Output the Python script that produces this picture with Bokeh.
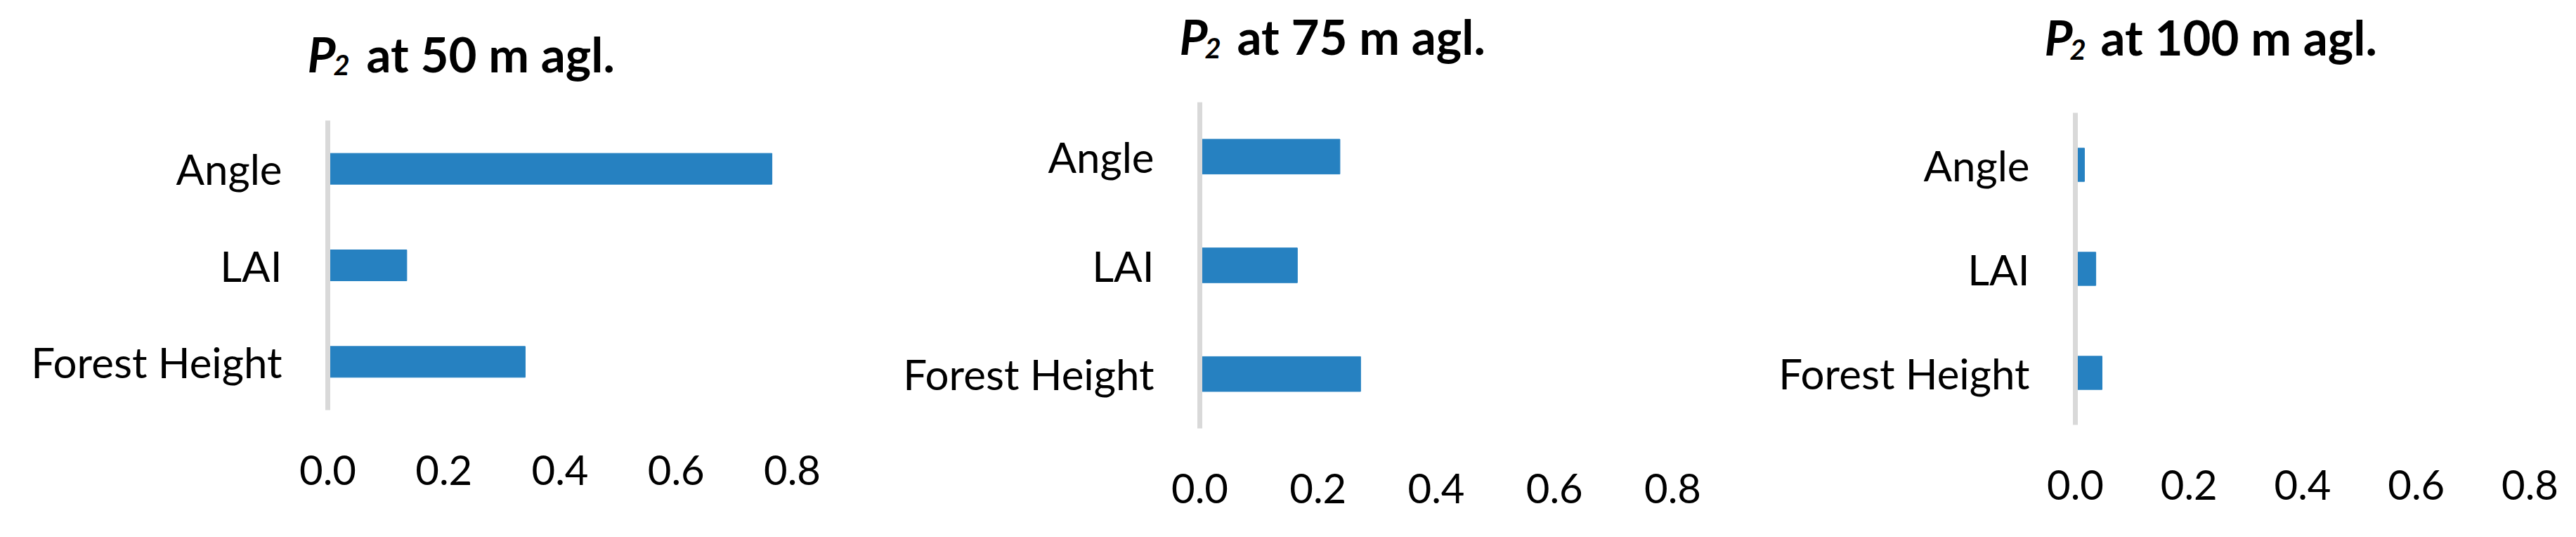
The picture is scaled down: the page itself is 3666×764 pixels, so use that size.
from bokeh.plotting import figure
from bokeh.layouts import row, column
from bokeh.models import Range1d, FactorRange, FixedTicker, NumeralTickFormatter
from bokeh.core.properties import value
from bokeh.embed import file_html
from bokeh.resources import INLINE

# ---- data ----
categories = ["Forest Height", "LAI", "Angle"]
p2_50m = [0.340, 0.136, 0.765]
p2_75m = [0.272, 0.165, 0.237]
p2_100m = [0.047, 0.036, 0.016]
x_ticks = [0.0, 0.2, 0.4, 0.6, 0.8]
titles = ["at 50 m agl.", "at 75 m agl.", "at 100 m agl."]

FONT = "Lato"
BAR = "#2681C1"
AX = "#D9D9D9"
H = 748
TH = 140  # title strip height
DY = 25   # baseline correction


def no_align(f):
    try:
        f.frame_align = False
    except Exception:
        pass
    return f


def title_fig(w, title, pos):
    (px, sx, rx, by, sy) = pos
    t = figure(width=w, height=TH, x_range=Range1d(0, w), y_range=Range1d(TH, 0),
               output_backend="svg", toolbar_location=None, title=None,
               x_axis_type=None, y_axis_type=None,
               min_border_left=0, min_border_right=0, min_border_top=0, min_border_bottom=0)
    no_align(t)
    t.outline_line_color = None
    t.grid.visible = False
    common = dict(text_font=value(FONT), text_baseline=value("alphabetic"),
                  text_align=value("left"), text_color="#000000")
    t.text(x=[px], y=[by - DY], text=["P"], text_font_size=value("69px"),
           text_font_style=value("bold italic"), **common)
    t.text(x=[sx], y=[sy - DY], text=["2"], text_font_size=value("40px"),
           text_font_style=value("bold italic"), **common)
    t.text(x=[rx], y=[by - DY], text=[title], text_font_size=value("69px"),
           text_font_style=value("bold"), **common)
    return t


def chart_fig(vals, w, left, fw, top, fh):
    h = H - TH
    right = w - left - fw
    bottom = h - top - fh
    p = figure(width=w, height=h, y_range=FactorRange(factors=categories),
               x_range=Range1d(0, 0.8), output_backend="svg",
               toolbar_location=None, title=None,
               min_border_left=left, min_border_right=right,
               min_border_top=top, min_border_bottom=bottom)
    no_align(p)
    p.hbar(y=categories, right=vals, left=0, height=0.32, color=BAR)
    p.outline_line_color = None
    p.xgrid.grid_line_color = None
    p.ygrid.grid_line_color = None
    p.xaxis.ticker = FixedTicker(ticks=x_ticks)
    p.xaxis.formatter = NumeralTickFormatter(format="0.0")
    p.xaxis.axis_line_color = None
    p.yaxis.axis_line_color = AX
    p.yaxis.axis_line_width = 7
    for ax in (p.xaxis, p.yaxis):
        ax.major_tick_line_color = None
        ax.minor_tick_line_color = None
        ax.major_tick_out = 0
        ax.major_tick_in = 0
        ax.major_label_text_font = FONT
        ax.major_label_text_color = "#000000"
    p.xaxis.major_label_text_font_size = "58px"
    p.yaxis.major_label_text_font_size = "60px"
    p.xaxis.major_label_standoff = 64
    p.yaxis.major_label_standoff = 65
    return p


c1 = column(title_fig(1222, titles[0], (437, 474, 521, 101, 117)),
            chart_fig(p2_50m, 1222, 466, 661, 171 - TH, 412))
c2 = column(title_fig(1222, titles[1], (456, 492, 538, 76, 93)),
            chart_fig(p2_75m, 1222, 485, 673, 145 - TH, 464))
c3 = column(title_fig(1206, titles[2], (465, 501, 545, 77, 95)),
            chart_fig(p2_100m, 1206, 509, 647, 160 - TH, 444))

layout = row(c1, c2, c3)
open("out.html", "w").write(file_html(layout, INLINE))
